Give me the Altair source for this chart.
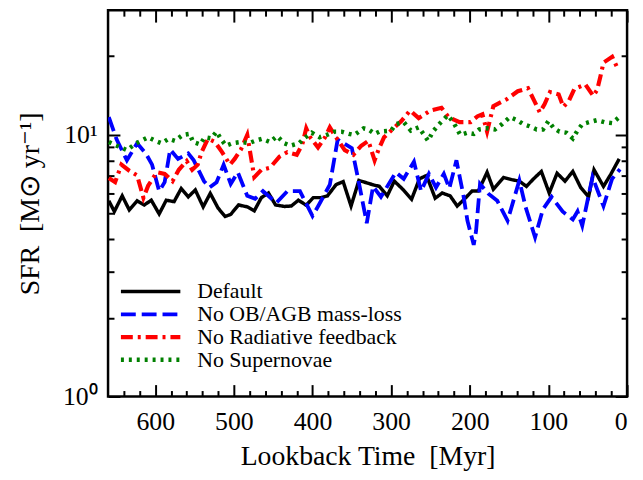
import altair as alt
import pandas as pd

SERIES = ["Default", "No OB/AGB mass-loss", "No Radiative feedback", "No Supernovae"]
COLORS = ["#000000", "#0000ff", "#ff0000", "#008000"]
DASHES = [[1, 0], [15, 6], [12, 5, 3, 5], [3, 5]]
WIDTHS = [3.5, 4.5, 4.5, 3.5]

T_DEFAULT = [659, 652, 642, 633, 623, 614, 605, 595, 586, 576, 567, 558, 549, 539, 530, 520, 511, 504, 494, 483,
             474, 465, 456, 447, 436, 427, 418, 408, 399, 389, 381, 370, 361, 351, 341, 331, 323, 315, 305, 296,
             285, 274, 264, 255, 244, 235, 225, 216, 207, 197, 189, 178, 170, 157, 147, 137, 128, 118, 109, 99,
             89, 79, 69, 59, 49, 42, 30, 21, 10]
SFR_DEFAULT = [5.6, 5.1, 5.85, 5.17, 5.6, 5.4, 5.63, 4.99, 5.63, 5.56, 6.24, 5.8, 6.16, 5.31, 5.98, 5.25, 4.88, 4.97, 5.4, 5.31,
               5.13, 5.76, 6.0, 5.4, 5.33, 5.35, 5.63, 5.39, 5.76, 5.76, 5.85, 6.46, 6.63, 5.35, 6.7, 6.56, 6.45, 6.36, 5.85, 6.66,
               6.19, 5.68, 6.8, 7.0, 5.73, 6.0, 5.85, 5.35, 5.68, 6.11, 6.11, 7.2, 6.2, 6.88, 6.75, 6.66, 6.36, 6.84, 7.25, 6.0,
               7.14, 6.66, 7.25, 6.3, 5.8, 7.36, 6.36, 7.05, 8.1]

T_NOWIND = [659, 649, 636, 623, 612, 604, 595, 588, 581, 571, 558, 551, 538, 531, 522, 513, 504, 495, 483, 473,
            463, 446, 432, 416, 400, 392, 378, 368, 350, 342, 331, 323, 313, 294, 284, 271, 262, 252, 243, 233,
            226, 217, 208, 203, 195, 192, 187, 176, 165, 152, 137, 129, 117, 107, 96, 82, 69, 63, 57, 44,
            30, 19, 9]
SFR_NOWIND = [11.7, 9.6, 8.0, 9.3, 8.5, 7.7, 6.1, 6.6, 8.8, 8.1, 8.5, 8.0, 6.66, 6.3, 6.6, 7.7, 6.5, 7.2, 5.85, 5.7,
              6.1, 5.5, 6.1, 6.1, 4.9, 5.4, 6.45, 9.6, 8.9, 6.8, 4.6, 6.36, 5.8, 7.2, 6.8, 7.9, 6.1, 7.1, 6.3, 7.1,
              6.25, 8.0, 5.85, 4.7, 3.8, 4.3, 6.5, 5.95, 5.6, 4.7, 6.7, 5.3, 4.06, 5.2, 5.8, 5.1, 4.75, 5.1, 4.5, 6.9,
              5.35, 6.8, 7.4]

T_NORAD = [659, 651, 643, 633, 623, 615, 609, 598, 588, 578, 570, 560, 553, 546, 541, 533, 524, 515, 505, 499,
           491, 483, 474, 465, 454, 442, 432, 420, 413, 408, 403, 393, 384, 378, 372, 359, 348, 338, 329, 321,
           316, 309, 300, 287, 276, 265, 250, 236, 227, 213, 199, 190, 184, 178, 170, 153, 139, 126, 118, 111,
           105, 98, 87, 81, 74, 67, 53, 43, 38, 34, 30, 19, 11]
SFR_NORAD = [6.85, 6.6, 7.7, 7.3, 7.0, 5.75, 6.4, 7.2, 7.1, 6.66, 7.36, 7.95, 7.36, 7.7, 8.6, 9.67, 9.4, 8.6, 7.7, 8.1,
             8.8, 10.0, 6.9, 7.36, 7.5, 8.27, 8.6, 8.4, 9.2, 10.6, 9.8, 8.95, 9.8, 10.7, 10.0, 8.75, 8.4, 9.1, 9.5, 8.0,
             8.8, 9.8, 10.4, 11.3, 12.4, 11.6, 12.4, 12.7, 11.7, 11.2, 11.2, 11.8, 12.0, 10.3, 12.9, 13.7, 14.7, 15.1, 13.5, 12.2,
             13.1, 14.6, 14.3, 12.8, 13.5, 15.0, 15.6, 14.1, 14.9, 16.7, 18.9, 19.9, 17.7]

T_NOSN = [659, 649, 636, 624, 609, 600, 592, 583, 575, 565, 556, 552, 543, 537, 529, 522, 517, 510, 502, 491,
          481, 473, 464, 454, 445, 436, 428, 417, 411, 401, 391, 382, 372, 363, 354, 347, 335, 329, 321, 315,
          300, 294, 284, 275, 265, 258, 253, 247, 239, 228, 221, 212, 203, 195, 188, 178, 168, 159, 149, 140,
          132, 124, 115, 107, 100, 93, 86, 77, 69, 63, 57, 48, 38, 29, 19, 10]
SFR_NOSN = [9.4, 9.1, 8.75, 9.3, 9.8, 9.5, 9.3, 9.67, 9.5, 10.0, 10.1, 9.4, 9.2, 9.8, 9.7, 10.3, 9.7, 9.1, 9.3, 9.4,
            9.3, 9.5, 9.67, 9.4, 9.9, 9.3, 9.1, 9.3, 9.7, 10.2, 9.8, 10.0, 10.3, 10.3, 10.1, 10.0, 10.6, 10.5, 10.1, 10.3,
            10.4, 11.0, 11.2, 10.4, 10.7, 10.0, 9.5, 10.3, 11.0, 11.9, 11.2, 10.0, 10.2, 10.1, 10.5, 10.6, 10.5, 11.0, 11.7, 11.4,
            11.0, 10.8, 10.5, 10.5, 11.3, 10.6, 10.3, 10.2, 9.7, 10.4, 11.0, 11.2, 11.4, 11.2, 11.1, 11.7]

X_MAJOR = [0, 100, 200, 300, 400, 500, 600]
X_MINOR = [20, 40, 60, 80, 120, 140, 160, 180, 220, 240, 260, 280, 320, 340, 360, 380,
           420, 440, 460, 480, 520, 540, 560, 580, 620, 640]
Y_MAJOR = [1, 10]
Y_MINOR = [2, 3, 4, 5, 6, 7, 8, 9, 20]

FONT = "Liberation Serif"
W, H = 524, 390

frames = []
for name, ts, vs in zip(SERIES, [T_DEFAULT, T_NOWIND, T_NORAD, T_NOSN],
                        [SFR_DEFAULT, SFR_NOWIND, SFR_NORAD, SFR_NOSN]):
    frames.append(pd.DataFrame({"t": ts, "sfr": vs, "run": name}))
df = pd.concat(frames, ignore_index=True)

xscale = alt.Scale(domain=[0, 660], reverse=True, nice=False, zero=False)
yscale = alt.Scale(type="log", domain=[1, 30], nice=False)

# long horizontal stroke symbol drawn at a small nominal size so legend rows stay compact
legend = alt.Legend(
    title=None, orient="none", legendX=32, legendY=273,
    symbolType="M-5,0H5", symbolSize=144, symbolStrokeWidth=3.5, symbolFillColor="transparent",
    labelFont=FONT, labelFontSize=22, labelOffset=36, rowPadding=1,
    labelColor="black", labelLimit=500, padding=0,
)

main = alt.Chart(df).mark_line(clip=True).encode(
    x=alt.X("t:Q", scale=xscale, axis=alt.Axis(
        orient="bottom", values=X_MAJOR, format="d", ticks=False, domain=False, grid=False,
        labelFont=FONT, labelFontSize=26, labelPadding=12, labelColor="black",
        title="Lookback Time\u00a0\u00a0[Myr]", titleFont=FONT, titleFontSize=28, titleFontWeight="normal",
        titlePadding=9, titleColor="black")),
    y=alt.Y("sfr:Q", scale=yscale, axis=alt.Axis(
        orient="left", values=Y_MAJOR, labelExpr="datum.value == 1 ? '10⁰' : '10¹'",
        ticks=False, domain=False, grid=False,
        labelFont=FONT, labelFontSize=26, labelPadding=11, labelColor="black",
        title="SFR\u00a0\u00a0[M⊙\u00a0yr⁻¹]", titleFont=FONT, titleFontSize=28, titleFontWeight="normal",
        titlePadding=18, titleColor="black")),
    color=alt.Color("run:N", scale=alt.Scale(domain=SERIES, range=COLORS), legend=legend),
    strokeDash=alt.StrokeDash("run:N", scale=alt.Scale(domain=SERIES, range=DASHES), legend=legend),
    strokeWidth=alt.StrokeWidth("run:N", scale=alt.Scale(domain=SERIES, range=WIDTHS), legend=None),
)


def tick_layer(xvals, yvals, size, low_side):
    xo, yo = ("top", "right") if low_side else ("bottom", "left")
    common = dict(labels=False, domain=False, grid=False, ticks=True, tickSize=size,
                  tickWidth=2, tickColor="black", title=None)
    return alt.Chart(df).mark_point(opacity=0).encode(
        x=alt.X("t:Q", scale=xscale, axis=alt.Axis(orient=xo, offset=-H, values=xvals, **common)),
        y=alt.Y("sfr:Q", scale=yscale, axis=alt.Axis(orient=yo, offset=-W, values=yvals, **common)),
    )


chart = alt.layer(
    main,
    tick_layer(X_MAJOR, Y_MAJOR, 12, True),
    tick_layer(X_MINOR, Y_MINOR, 6, True),
    tick_layer(X_MAJOR, Y_MAJOR, 12, False),
    tick_layer(X_MINOR, Y_MINOR, 6, False),
).resolve_axis(x="independent", y="independent").properties(
    width=W, height=H,
    padding={"left": 101, "top": 0, "right": 8, "bottom": 74},
    autosize=alt.AutoSizeParams(type="none"),
    background="white",
).configure_view(stroke="black", strokeWidth=2.5)

chart.save("out.html", embed_options={"renderer": "svg", "actions": False})
